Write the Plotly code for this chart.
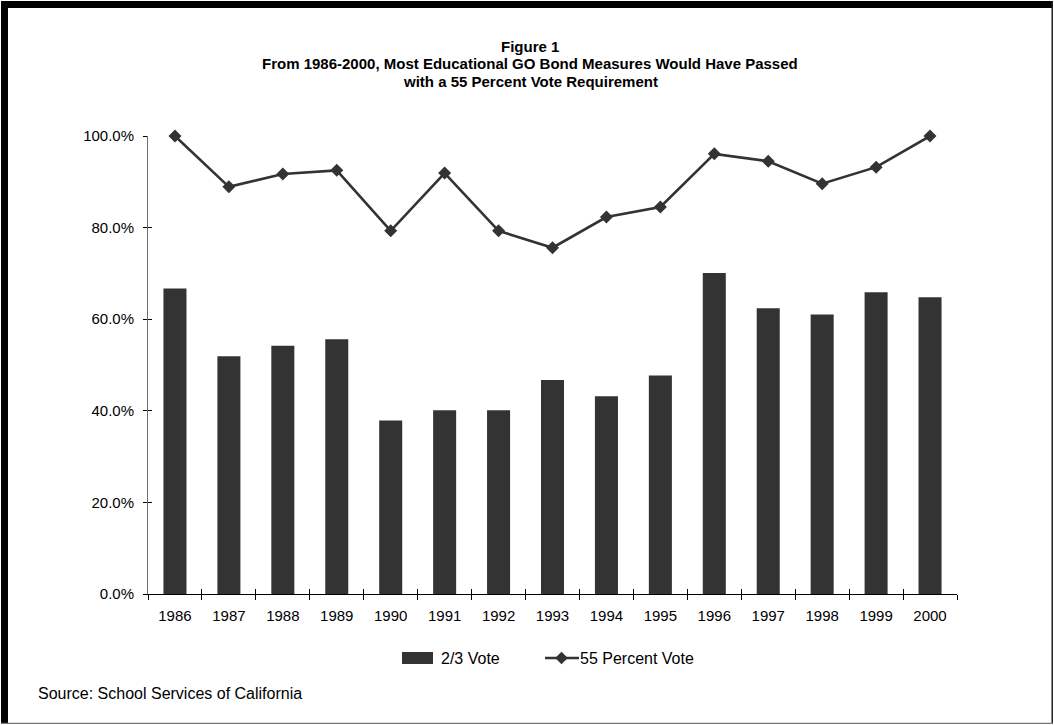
import plotly.graph_objects as go

years = ["1986", "1987", "1988", "1989", "1990", "1991", "1992", "1993",
         "1994", "1995", "1996", "1997", "1998", "1999", "2000"]
two_thirds = [0.667, 0.519, 0.542, 0.556, 0.379, 0.401, 0.401, 0.467,
              0.432, 0.477, 0.701, 0.624, 0.610, 0.659, 0.648]
pct55 = [1.000, 0.889, 0.917, 0.925, 0.793, 0.919, 0.793, 0.756,
         0.823, 0.845, 0.961, 0.945, 0.896, 0.932, 1.000]
yticks = [0, 0.2, 0.4, 0.6, 0.8, 1.0]

W, H = 1054, 725
L, R, T, B = 148, 97, 136, 131
PW, PH = W - L - R, H - T - B
DARK = "#333333"
FONT = "Liberation Sans, Arial, sans-serif"


def px(x):
    return (x - L) / PW


def py(y):
    return (H - B - y) / PH


fig = go.Figure()
fig.add_trace(go.Bar(x=years, y=two_thirds, name="2/3 Vote",
                     marker=dict(color=DARK, line=dict(width=0))))
fig.add_trace(go.Scatter(x=years, y=pct55, name="55 Percent Vote", mode="lines+markers",
                         line=dict(color=DARK, width=2.6),
                         marker=dict(symbol="diamond", size=10, color=DARK),
                         cliponaxis=False))
# invisible helper trace for the inner half of the cross tick marks
fig.add_trace(go.Scatter(x=years, y=two_thirds, xaxis="x2", yaxis="y2",
                         mode="markers", marker=dict(opacity=0), hoverinfo="skip",
                         showlegend=False))

shapes = []
# figure frame: thick top/left, thin right/bottom
shapes.append(dict(type="rect", xref="paper", yref="paper", x0=px(1), x1=px(1053),
                   y0=py(8), y1=py(1), fillcolor="#000", line=dict(width=0), layer="above"))
shapes.append(dict(type="rect", xref="paper", yref="paper", x0=px(1), x1=px(8),
                   y0=py(724), y1=py(1), fillcolor="#000", line=dict(width=0), layer="above"))
shapes.append(dict(type="rect", xref="paper", yref="paper", x0=px(1051.5), x1=px(1053),
                   y0=py(724), y1=py(1), fillcolor="#222", line=dict(width=0), layer="above"))
shapes.append(dict(type="rect", xref="paper", yref="paper", x0=px(1), x1=px(1053),
                   y0=py(724), y1=py(722.8), fillcolor="#777", line=dict(width=0), layer="above"))
# legend
ly = 658
shapes.append(dict(type="rect", xref="paper", yref="paper", x0=px(402), x1=px(433),
                   y0=py(664), y1=py(652), fillcolor=DARK, line=dict(width=0)))
shapes.append(dict(type="line", xref="paper", yref="paper", x0=px(545), x1=px(579),
                   y0=py(ly), y1=py(ly), line=dict(color=DARK, width=2.6)))
cx, r = 561.5, 6.3
shapes.append(dict(type="path", xref="paper", yref="paper",
                   path=f"M {px(cx - r)} {py(ly)} L {px(cx)} {py(ly - r)} L {px(cx + r)} {py(ly)} L {px(cx)} {py(ly + r)} Z",
                   fillcolor=DARK, line=dict(width=0)))

TS = 15
annotations = [
    dict(text="<b>Figure 1</b>", x=px(530), y=py(46), xref="paper", yref="paper",
         showarrow=False, xanchor="center", yanchor="middle", font=dict(size=TS)),
    dict(text="<b>From 1986-2000, Most Educational GO Bond Measures Would Have Passed</b>",
         x=px(530), y=py(63.5), xref="paper", yref="paper",
         showarrow=False, xanchor="center", yanchor="middle", font=dict(size=TS)),
    dict(text="<b>with a 55 Percent Vote Requirement</b>", x=px(530), y=py(81),
         xref="paper", yref="paper", showarrow=False, xanchor="center", yanchor="middle",
         font=dict(size=TS)),
    dict(text="2/3 Vote", x=px(439), y=py(ly), xref="paper", yref="paper",
         showarrow=False, xanchor="left", yanchor="middle", font=dict(size=16)),
    dict(text="55 Percent Vote", x=px(578), y=py(ly), xref="paper", yref="paper",
         showarrow=False, xanchor="left", yanchor="middle", font=dict(size=16)),
    dict(text="Source: School Services of California", x=px(36), y=py(693),
         xref="paper", yref="paper", showarrow=False, xanchor="left", yanchor="middle",
         font=dict(size=16)),
]

fig.update_layout(
    width=W, height=H,
    margin=dict(l=L, r=R, t=T, b=B, pad=0),
    paper_bgcolor="white", plot_bgcolor="white",
    font=dict(family=FONT, size=15, color="black"),
    showlegend=False,
    bargap=0.573,
    shapes=shapes, annotations=annotations,
    xaxis=dict(type="category", categoryorder="array", categoryarray=years,
               range=[-0.5, 14.5], tickson="boundaries", ticks="outside", ticklen=5,
               tickcolor="black", tickwidth=1, showline=True, linecolor="black",
               linewidth=1, showgrid=False, zeroline=False,
               tickfont=dict(size=15), ticklabelstandoff=8),
    yaxis=dict(range=[0, 1], tickvals=yticks, tickformat=".1%", ticks="outside",
               ticklen=4, tickcolor="black", tickwidth=1, showline=True,
               linecolor="#707070", linewidth=1, showgrid=False, zeroline=False,
               tickfont=dict(size=15), ticklabelstandoff=6),
    xaxis2=dict(type="category", categoryorder="array", categoryarray=years,
                overlaying="x", anchor="y2", range=[-0.5, 14.5], tickson="boundaries",
                ticks="inside", ticklen=5, tickcolor="black", tickwidth=1,
                showticklabels=False, showline=False, showgrid=False, zeroline=False),
    yaxis2=dict(range=[0, 1], tickvals=yticks, overlaying="y", anchor="x2", side="left",
                ticks="inside", ticklen=4, tickcolor="black", tickwidth=1,
                showticklabels=False, showline=False, showgrid=False, zeroline=False),
)

fig.write_html("out.html")
